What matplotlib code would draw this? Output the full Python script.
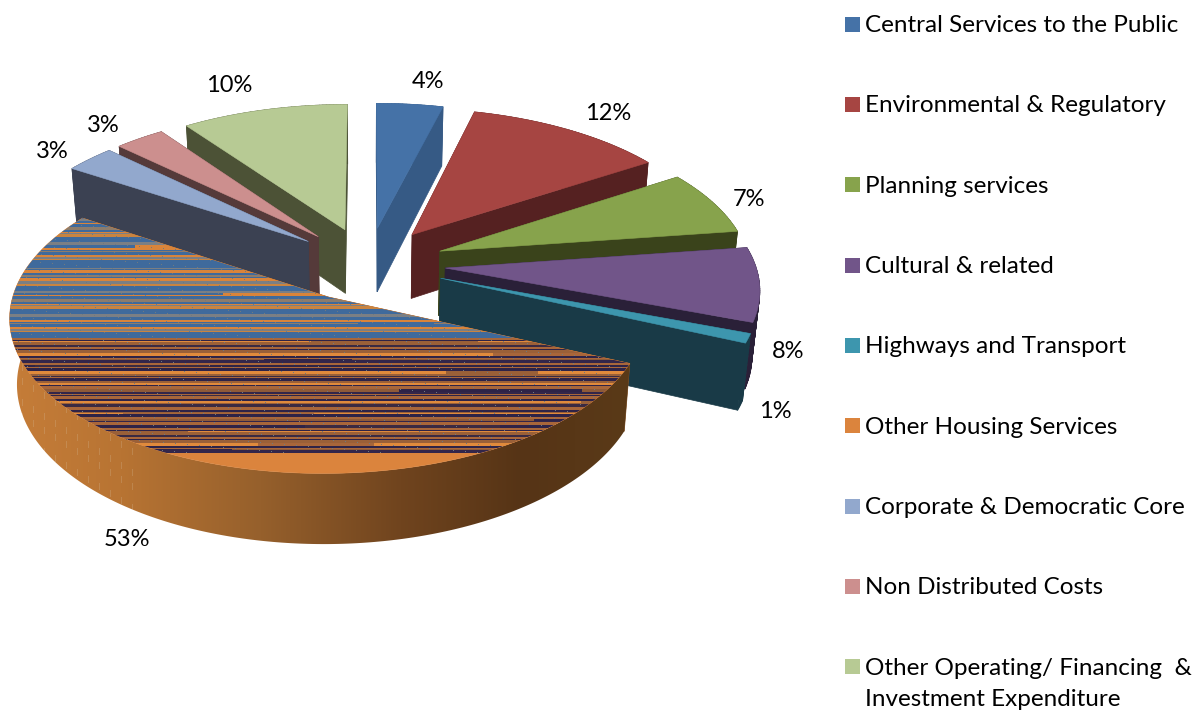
import matplotlib

matplotlib.use("Agg")
import matplotlib.pyplot as plt
from matplotlib.collections import PolyCollection
from matplotlib.colors import to_rgb
from matplotlib.patches import Polygon
import numpy as np

plt.rcParams["font.family"] = ["Lato", "DejaVu Sans"]

categories = [
    "Central Services to the Public",
    "Environmental & Regulatory",
    "Planning services",
    "Cultural & related",
    "Highways and Transport",
    "Other Housing Services",
    "Corporate & Democratic Core",
    "Non Distributed Costs",
    "Other Operating/ Financing  &\nInvestment Expenditure",
]
percent = [4, 12, 7, 8, 1, 53, 3, 3, 10]

top_colors = ["#4572A7", "#A64542", "#87A34C", "#715589", "#3D96AE", "#DB843D", "#92A8CD", "#CC8F8E", "#B7CA94"]
side_colors = ["#365A85", "#552121", "#3A431B", "#2A2038", "#193A47", "#8A5526", "#3B4152", "#553A3A", "#4C5236"]
label_pos = [(428, 81), (608, 113), (749, 200), (788, 351), (775, 411), (127, 540), (52, 151), (103, 126), (229, 86)]

# back to front, the large slice goes on last
draw_order = [8, 7, 6, 0, 1, 2, 3, 4, 5]

# projection of the pie plane
X0, Y0 = 368, 264
SCALE_X, SCALE_Y = 310, 148
PERSP = 0.12
DEPTH, DEPTH_PERSP = 66, 0.02
EXPLODE = 0.25
BIG = 5
BIG_NUDGE = (-0.005, 0.002)
BIG_RADIUS = 0.992


def project(u, v, lower=False):
    u, v = np.asarray(u, float), np.asarray(v, float)
    if lower:
        w = 1 + PERSP * v + DEPTH_PERSP
        return X0 + SCALE_X * u / w, Y0 + (DEPTH - SCALE_Y * v) / w
    w = 1 + PERSP * v
    return X0 + SCALE_X * u / w, Y0 - SCALE_Y * v / w


def xy(u, v, lower=False):
    return np.column_stack(project(u, v, lower))


def streak_image(row_top, row_split, row_end):
    # rows of two or three pixels with short runs of another colour
    far_rows = ["#3F6A9C", "#3F6A9C", "#7B7F84", "#3F6A9C", "#D9843A", "#3F6A9C", "#8C7C6C", "#3F6A9C", "#D9843A", "#7B7F84", "#C98440", "#3F6A9C"]
    near_rows = ["#2E2347", "#A8663A", "#2E2347", "#E08A3C", "#9A6038", "#3A2A42", "#A8663A", "#2E2347", "#9A6038", "#E08A3C", "#2E2347", "#A8663A", "#8F5A38", "#33264A", "#A8663A"]
    width = 1194
    img = np.zeros((row_end - row_top, width, 3))
    n, y = 0, row_top
    while y < row_end:
        band = far_rows if y < row_split else near_rows
        h = 1 + (n * 5 + n // 3) % 3
        img[y - row_top:y - row_top + h] = to_rgb(band[n % len(band)])
        if n % 3 == 0:
            start = (n * 137) % 640
            img[y - row_top:y - row_top + h, start:start + 40 + (n * 29) % 170] = to_rgb(band[(n + 5) % len(band)])
        y += h
        n += 1
    # scattered specks along the rows
    yy, xx = np.mgrid[row_top:row_end, 0:width]
    specks = (xx * 73 + yy * 191) % 97 < 1
    img[specks] = to_rgb("#6F7A80")
    return img


fig = plt.figure(figsize=(11.94, 7.11), dpi=100)
ax = fig.add_axes([0, 0, 1, 1])

edges = np.cumsum([0] + percent) / sum(percent) * 2 * np.pi

for i in draw_order:
    a, b = edges[i], edges[i + 1]
    mid = (a + b) / 2
    u0, v0 = EXPLODE * np.sin(mid), EXPLODE * np.cos(mid)
    r = 1.0
    if i == BIG:
        u0, v0 = u0 + BIG_NUDGE[0], v0 + BIG_NUDGE[1]
        r = BIG_RADIUS
    th = np.linspace(a, b, max(int((b - a) * 80), 6))
    rim_u, rim_v = u0 + r * np.sin(th), v0 + r * np.cos(th)

    # the two cut faces
    for k in (0, -1):
        face = np.vstack([
            xy([u0, rim_u[k]], [v0, rim_v[k]]),
            xy([rim_u[k], u0], [rim_v[k], v0], lower=True),
        ])
        ax.add_patch(Polygon(face, fc=side_colors[i], ec=side_colors[i], lw=0.5))

    upper, lower = xy(rim_u, rim_v), xy(rim_u, rim_v, lower=True)
    if i == BIG:
        # outer wall shades from left to right, pale flecks near its left end
        wall = Polygon(np.vstack([upper, lower[::-1]]), fc="none", ec="none")
        ax.add_patch(wall)
        ramp_x = [20, 120, 260, 400, 520, 630]
        ramp = np.array([to_rgb(c) for c in ["#C47C38", "#B87433", "#96602C", "#70441E", "#563416", "#5A3A18"]])
        cols = np.arange(0, 660)
        grad = np.column_stack([np.interp(cols, ramp_x, ramp[:, n]) for n in range(3)])[None, :, :]
        yy, xx = np.mgrid[300:560, 0:660]
        flecks = (xx % 11 == 0) & ((yy // 7 * 13 + xx * 7) % 5 < 2) & (xx < 135)
        grad = np.repeat(grad, 260, axis=0)
        grad[flecks] = grad[flecks] * 0.75 + 0.25 * np.array(to_rgb("#D8C0A0"))
        im = ax.imshow(grad, extent=(0, 660, 560, 300), aspect="auto", interpolation="nearest", zorder=2)
        im.set_clip_path(wall)
    else:
        strips = [np.vstack([upper[j], upper[j + 1], lower[j + 1], lower[j]]) for j in range(len(th) - 1)]
        ax.add_collection(PolyCollection(strips, facecolors=side_colors[i], edgecolors=side_colors[i], linewidths=0.5))

    # top face
    top = np.vstack([xy([u0], [v0]), upper])
    patch = Polygon(top, fc=top_colors[i], ec=top_colors[i], lw=0.4, zorder=3 if i == BIG else 1)
    ax.add_patch(patch)
    if i == BIG:
        row_top, row_split, row_end = 215, 338, 453
        im = ax.imshow(streak_image(row_top, row_split, row_end), extent=(0, 1194, row_end, row_top), aspect="auto", interpolation="nearest", zorder=3.1)
        im.set_clip_path(patch)

for i, (x, y) in enumerate(label_pos):
    ax.text(x, y, f"{percent[i]}%", ha="center", va="center", fontsize=17, color="black", zorder=5)

# legend column
for i, name in enumerate(categories):
    y = 24 + i * 80.35
    ax.add_patch(Polygon([(845, y - 7.5), (860, y - 7.5), (860, y + 7.5), (845, y + 7.5)], fc=top_colors[i], ec="none", zorder=5))
    ax.text(865, y - 9, name, ha="left", va="top", fontsize=17.5, color="black", linespacing=1.6, zorder=5)

ax.set_xlim(0, 1194)
ax.set_ylim(711, 0)
ax.axis("off")
fig.savefig("out.png", dpi=100)
